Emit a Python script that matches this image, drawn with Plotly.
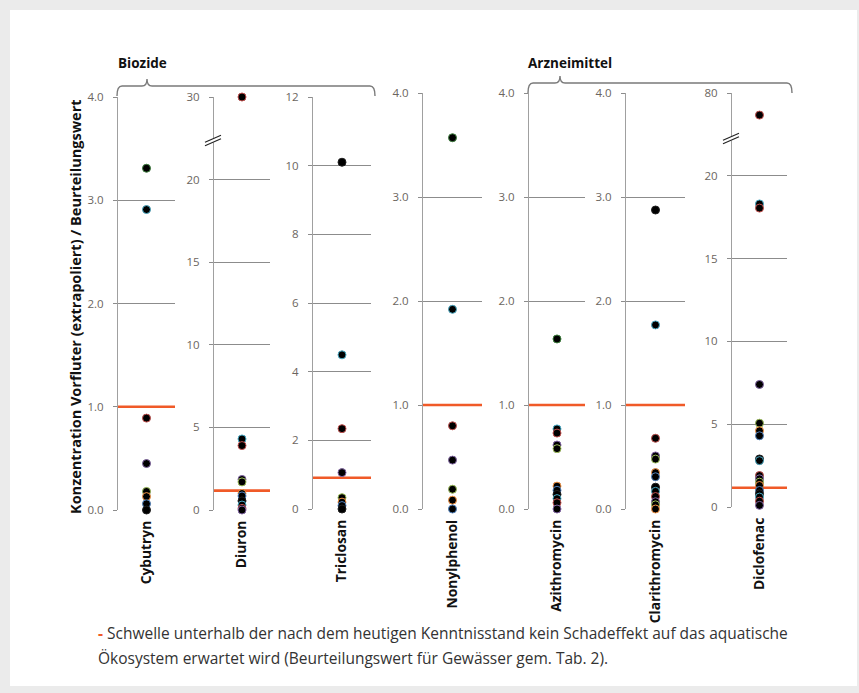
import plotly.graph_objects as go

W, H = 859, 693

# ---------------- data ----------------
categories = ["Cybutryn", "Diuron", "Triclosan", "Nonylphenol",
              "Azithromycin", "Clarithromycin", "Diclofenac"]

cybutryn = [3.31, 2.91, 0.89, 0.45, 0.18, 0.13, 0.06, 0.0]
diuron = [30, 4.3, 3.9, 1.85, 1.7, 1.0, 0.85, 0.55, 0.3, 0.1, 0.0]
triclosan = [10.1, 4.49, 2.34, 1.06, 0.33, 0.2, 0.1, 0.0]
nonylphenol = [3.57, 1.92, 0.8, 0.47, 0.19, 0.085, 0.0]
azithromycin = [1.635, 0.77, 0.73, 0.615, 0.58, 0.22, 0.18, 0.14, 0.1, 0.06, 0.0]
clarithromycin = [2.875, 1.77, 0.68, 0.51, 0.48, 0.35, 0.31, 0.21, 0.17, 0.12, 0.07, 0.04, 0.0]
diclofenac = [64, 18.3, 18.05, 7.4, 5.06, 4.6, 4.3, 2.9, 2.8, 1.9, 1.7, 1.5, 1.3,
              1.0, 0.8, 0.6, 0.35, 0.1]

thresholds = [1.0, 1.17, 0.91, 1.0, 1.0, 1.0, 1.16]

ticks_small = [0, 1, 2, 3, 4]
ticks_small_text = ["0.0", "1.0", "2.0", "3.0", "4.0"]
ticks_diuron = [0, 5, 10, 15, 20, 30]
ticks_triclosan = [0, 2, 4, 6, 8, 10, 12]
ticks_diclofenac = [0, 5, 10, 15, 20, 80]

series = [cybutryn, diuron, triclosan, nonylphenol, azithromycin, clarithromycin, diclofenac]

outline_palette = ["#4bacc6", "#c0504d", "#8064a2", "#9bbb59", "#f79646", "#4f81bd", "#1f1f1f"]
outline_first = ["#3f7f3f", "#c0504d", "#1f1f1f", "#3f7f3f", "#3f7f3f", "#1f1f1f", "#c0504d"]


# axis-break transform: values above 20 are compressed so that `top` sits at 25
def broken(v, top):
    return v if v <= 20 else 20 + (v - 20) * 5.0 / (top - 20)


# panel layout in pixels: axis x, right end, top y, zero y
panels = [
    (118, 175, 97, 510),
    (214, 270, 97, 510),
    (313, 371, 97, 509),
    (423, 482, 93, 509),
    (529, 585, 93, 509),
    (626, 685, 93, 509),
    (732, 787, 93, 507),
]


def fx(px):
    return px / W


def fy(py):
    return 1 - py / H


fig = go.Figure()
GRID = "#8c8c8c"
TICKCOL = "#6b6560"
ORANGE = "#f05a28"
FONT = "Open Sans"

for i, (cat, vals) in enumerate(zip(categories, series)):
    n = i + 1
    xa = "x" if n == 1 else f"x{n}"
    ya = "y" if n == 1 else f"y{n}"
    if cat == "Diuron":
        yv = [broken(v, 30) for v in vals]
        tv = [broken(t, 30) for t in ticks_diuron]
        tt = [str(t) for t in ticks_diuron]
        rng = [0, 25]
        thr = broken(thresholds[i], 30)
    elif cat == "Diclofenac":
        yv = [broken(v, 80) for v in vals]
        tv = [broken(t, 80) for t in ticks_diclofenac]
        tt = [str(t) for t in ticks_diclofenac]
        rng = [0, 25]
        thr = broken(thresholds[i], 80)
    elif cat == "Triclosan":
        yv = list(vals)
        tv = ticks_triclosan
        tt = [str(t) for t in ticks_triclosan]
        rng = [0, 12]
        thr = thresholds[i]
    else:
        yv = list(vals)
        tv = ticks_small
        tt = ticks_small_text
        rng = [0, 4]
        thr = thresholds[i]

    # threshold line
    fig.add_trace(go.Scatter(
        x=[-0.5, 0.5], y=[thr, thr], mode="lines",
        line=dict(color=ORANGE, width=2.6),
        xaxis=xa, yaxis=ya, showlegend=False, hoverinfo="skip",
        cliponaxis=False))

    cols = [outline_first[i]] + [outline_palette[k % len(outline_palette)]
                                 for k in range(len(yv) - 1)]
    fig.add_trace(go.Scatter(
        x=[0] * len(yv), y=yv, mode="markers",
        marker=dict(color="black", size=8, line=dict(color=cols, width=1)),
        xaxis=xa, yaxis=ya, showlegend=False, cliponaxis=False))

    x0, x1, yt, yb = panels[i]
    xkey = "xaxis" if n == 1 else f"xaxis{n}"
    ykey = "yaxis" if n == 1 else f"yaxis{n}"
    fig.layout[xkey] = dict(
        domain=[fx(x0), fx(x1)], anchor=ya, range=[-0.5, 0.5],
        tickvals=[0], ticktext=[f"<b>{cat}</b>"], tickangle=-90,
        showgrid=False, zeroline=False, showline=False, ticks="",
        ticklabelstandoff=7, automargin=False,
        tickfont=dict(family=FONT, size=13.8, color="#111111"))
    fig.layout[ykey] = dict(
        domain=[fy(yb), fy(yt)], anchor=xa, range=rng,
        tickvals=tv, ticktext=tt,
        showgrid=True, gridcolor=GRID, gridwidth=1,
        zeroline=False, showline=True, linecolor="#a0a0a0", linewidth=1,
        ticks="outside", ticklen=4, tickcolor=GRID,
        ticklabelstandoff=7, automargin=False,
        tickfont=dict(family=FONT, size=11.5, color=TICKCOL))

shapes = []
# white panel on grey frame
shapes.append(dict(type="rect", xref="paper", yref="paper", layer="below",
                   x0=fx(10), x1=fx(857), y0=fy(686), y1=fy(10),
                   fillcolor="white", line=dict(width=0)))


def bracket(xa, xb, xt, yline, yend, ytip, r=5):
    pts = [
        f"M {fx(xa)},{fy(yend)}",
        f"Q {fx(xa)},{fy(yline)} {fx(xa + r)},{fy(yline)}",
        f"L {fx(xt - r)},{fy(yline)}",
        f"Q {fx(xt)},{fy(yline)} {fx(xt)},{fy(ytip)}",
        f"Q {fx(xt)},{fy(yline)} {fx(xt + r)},{fy(yline)}",
        f"L {fx(xb - r)},{fy(yline)}",
        f"Q {fx(xb)},{fy(yline)} {fx(xb)},{fy(yend)}",
    ]
    return dict(type="path", xref="paper", yref="paper", path=" ".join(pts),
                line=dict(color="#7a7a7a", width=1.4))


shapes.append(bracket(117, 375, 147, 86, 96, 79))
shapes.append(bracket(528, 792, 560, 83, 93, 76))


def break_mark(ax, by):
    out = [dict(type="line", xref="paper", yref="paper",
                x0=fx(ax - 8), y0=fy(by + 4), x1=fx(ax + 8), y1=fy(by - 3),
                line=dict(color="white", width=4))]
    for d in (-1.8, 1.8):
        out.append(dict(type="line", xref="paper", yref="paper",
                        x0=fx(ax - 8), y0=fy(by + 4 + d), x1=fx(ax + 8), y1=fy(by - 3 + d),
                        line=dict(color="#222222", width=1.1)))
    return out


shapes += break_mark(213, 140)
shapes += break_mark(731, 138)

ann_common = dict(xref="paper", yref="paper", showarrow=False, yanchor="middle")
annotations = [
    dict(text="<b>Biozide</b>", x=fx(142), y=fy(63), xanchor="center",
         font=dict(family=FONT, size=13.5, color="#111111"), **ann_common),
    dict(text="<b>Arzneimittel</b>", x=fx(570), y=fy(63), xanchor="center",
         font=dict(family=FONT, size=13.5, color="#111111"), **ann_common),
    dict(text="<b>Konzentration Vorfluter (extrapoliert) / Beurteilungswert</b>",
         x=fx(75), y=fy(307), xanchor="center", textangle=-90,
         font=dict(family=FONT, size=14.5, color="#111111"), **ann_common),
    dict(text=f"<span style='color:{ORANGE}'><b>-</b></span> Schwelle unterhalb der nach dem heutigen Kenntnisstand kein Schadeffekt auf das aquatische",
         x=fx(96), y=fy(633), xanchor="left",
         font=dict(family=FONT, size=15.5, color="#333333"), **ann_common),
    dict(text="Ökosystem erwartet wird (Beurteilungswert für Gewässer gem. Tab. 2).",
         x=fx(96), y=fy(658), xanchor="left",
         font=dict(family=FONT, size=15.5, color="#333333"), **ann_common),
]

fig.update_layout(
    width=W, height=H,
    margin=dict(l=0, r=0, t=0, b=0, autoexpand=False),
    paper_bgcolor="#ebebeb", plot_bgcolor="rgba(0,0,0,0)",
    shapes=shapes, annotations=annotations,
    showlegend=False,
)

fig.write_html("out.html", config={"displayModeBar": False},
               post_script="document.body.style.margin='0';document.body.style.overflow='hidden';")
